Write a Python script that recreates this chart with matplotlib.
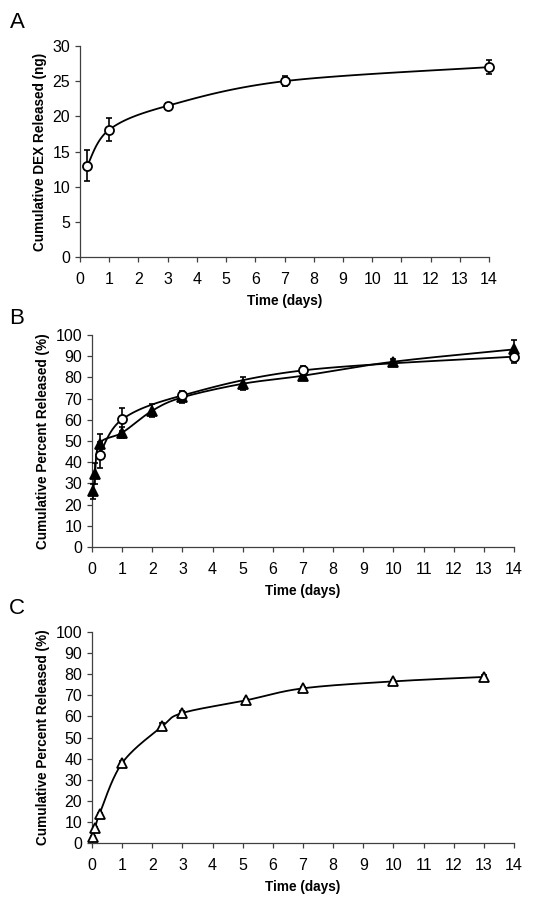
import numpy as np
import matplotlib
matplotlib.use("Agg")
import matplotlib.pyplot as plt

plt.rcParams['font.family'] = ['Liberation Sans', 'DejaVu Sans']

# Panel A: cumulative DEX released (ng)
a_days = [0.25, 1, 3, 7, 14]
a_ng = [13.0, 18.1, 21.5, 25.0, 27.0]
a_err = [2.2, 1.6, 0.4, 0.7, 1.0]

# Panel B: cumulative percent released, two formulations
b_circ_days = [0.25, 1, 3, 7, 14]
b_circ_pct = [43.5, 60.2, 71.5, 83.3, 89.8]
b_circ_err = [6.0, 5.3, 2.0, 2.0, 3.0]

b_tri_days = [0.04, 0.1, 0.25, 1, 2, 3, 5, 7, 10, 14]
b_tri_pct = [26.3, 34.6, 48.8, 53.9, 64.3, 70.6, 77.0, 80.8, 87.4, 93.2]
b_tri_err = [3.5, 5.0, 4.5, 2.5, 3.0, 2.5, 3.0, 1.0, 1.5, 4.3]

# Panel C: cumulative percent released
c_days = [0.04, 0.11, 0.25, 1, 2.33, 3, 5.1, 7, 10, 13]
c_pct = [2.8, 6.9, 13.7, 37.9, 55.3, 61.6, 67.6, 73.3, 76.6, 78.7]
c_err = [0.5, 0.5, 0.5, 0.8, 1.5, 0.8, 0.8, 0.8, 0.8, 0.8]


def smooth(x, y, xr, yr, n=30):
    # Excel-like smoothed line (Bezier through points, tension 1/6)
    x = np.asarray(x, float) / xr
    y = np.asarray(y, float) / yr
    px, py = [], []
    m = len(x)
    for i in range(m - 1):
        i0, i3 = max(i - 1, 0), min(i + 2, m - 1)
        p0 = np.array([x[i], y[i]])
        p3 = np.array([x[i + 1], y[i + 1]])
        c1 = p0 + (np.array([x[i + 1] - x[i0], y[i + 1] - y[i0]])) / 6
        c2 = p3 - (np.array([x[i3] - x[i], y[i3] - y[i]])) / 6
        t = np.linspace(0, 1, n)[:, None]
        pts = ((1 - t) ** 3) * p0 + 3 * ((1 - t) ** 2) * t * c1 + 3 * (1 - t) * t ** 2 * c2 + t ** 3 * p3
        px.extend(pts[:, 0])
        py.extend(pts[:, 1])
    return np.array(px) * xr, np.array(py) * yr


def series(ax, x, y, err, marker, face, yr):
    sx, sy = smooth(x, y, 14, yr)
    ax.plot(sx, sy, color='black', lw=1.3, zorder=2, clip_on=False)
    eb = ax.errorbar(x, y, yerr=err, fmt='none', ecolor='black', elinewidth=1.2,
                     capsize=2.5, capthick=1.2, zorder=3)
    for art in eb.lines[1] + eb.lines[2]:
        art.set_clip_on(False)
    ax.plot(x, y, linestyle='none', marker=marker, ms=6.5 if marker == 'o' else 7,
            mfc=face, mec='black', mew=1.3, zorder=4, clip_on=False)


def style(ax, ymax, ystep, ylabel):
    ax.set_xlim(0, 14)
    ax.set_ylim(0, ymax)
    ax.set_xticks(range(0, 15))
    ax.set_yticks(np.arange(0, ymax + 1, ystep))
    for s in ['top', 'right']:
        ax.spines[s].set_visible(False)
    for s in ['left', 'bottom']:
        ax.spines[s].set_color('#404040')
        ax.spines[s].set_linewidth(0.9)
    ax.tick_params(direction='out', length=3.5, width=0.9, color='#404040',
                   labelsize=11.5)
    ax.tick_params(axis='x', pad=7)
    ax.tick_params(axis='y', pad=3.5)
    ax.set_xlabel('Time (days)', fontsize=9.8, fontweight='bold', labelpad=5)
    ax.set_ylabel(ylabel, fontsize=9.8, fontweight='bold', labelpad=4)


W, H = 550, 902
fig = plt.figure(figsize=(W / 100, H / 100), dpi=100)

def axes_px(l, r, t, b):
    return fig.add_axes([l / W, 1 - b / H, (r - l) / W, (b - t) / H])

axA = axes_px(80, 489, 46, 257)
axB = axes_px(92, 514, 335, 547)
axC = axes_px(92, 514, 632, 843)

series(axA, a_days, a_ng, a_err, 'o', 'white', 30)
style(axA, 30, 5, 'Cumulative DEX Released (ng)')

series(axB, b_tri_days, b_tri_pct, b_tri_err, '^', 'black', 100)
series(axB, b_circ_days, b_circ_pct, b_circ_err, 'o', 'white', 100)
style(axB, 100, 10, 'Cumulative Percent Released (%)')

series(axC, c_days, c_pct, c_err, '^', 'white', 100)
style(axC, 100, 10, 'Cumulative Percent Released (%)')

for lab, y in [('A', 22), ('B', 318), ('C', 608)]:
    fig.text(17 / W, 1 - y / H, lab, fontsize=16, ha='center', va='center')

fig.savefig('out.png', dpi=100)
